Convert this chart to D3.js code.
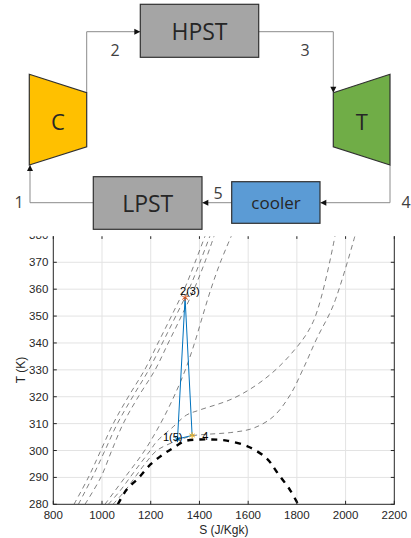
<!DOCTYPE html>
<html><head><meta charset="utf-8">
<script src="https://cdn.jsdelivr.net/npm/d3@7"></script>
<style>body{margin:0;background:#fff}svg{display:block}</style>
</head><body>
<svg id="c" width="411" height="538"></svg>
<script>
// ---------- data ----------
const xTicks = [800, 1000, 1200, 1400, 1600, 1800, 2000, 2200];
const yTicks = [280, 290, 300, 310, 320, 330, 340, 350, 360, 370, 380];

// saturation dome
const domeS = [1065, 1100, 1149, 1200, 1250, 1293, 1341, 1400, 1450, 1512, 1601, 1676, 1717, 1772, 1805];
const domeT = [280, 285.3, 289.7, 294.9, 298.5, 301, 303.5, 304.1, 304.1, 303.7, 301.4, 297.1, 292.1, 285.3, 280];

// isobars (steep, liquid-like)
const steepT = [280, 290, 300, 310, 320, 330, 340, 350, 360, 370, 380];
const isoA_S = [885, 944, 995, 1046, 1108, 1175, 1230, 1285, 1338, 1382, 1424];
const isoB_S = [903, 960, 1012, 1063, 1126, 1192, 1248, 1303, 1357, 1402, 1444];
const isoC_S = [930, 995, 1040, 1087, 1149, 1218, 1272, 1326, 1378, 1422, 1461];
const isoD_S = [1012, 1094, 1175, 1240, 1295, 1342, 1380, 1413, 1447, 1486, 1532];

// isobar with pseudo-critical bend
const isoE_S = [1026, 1074, 1115, 1156, 1198, 1224, 1293, 1347, 1402, 1539, 1662, 1772, 1867, 1957];
const isoE_T = [280, 285, 290, 295, 300, 303.3, 308.9, 313.2, 315.1, 319.4, 326.2, 335.5, 347.9, 380];

// near-critical isobar (through point 4)
const isoF_S = [1045, 1094, 1135, 1176, 1225, 1290, 1335, 1371, 1539, 1621, 1703, 1772, 1827, 1882, 1950, 2039];
const isoF_T = [280, 285, 290, 295, 300, 303, 304.5, 305.5, 306.8, 308.3, 312.6, 320.6, 330.6, 341.7, 354.1, 380];

// cycle states 1 -> 2 -> 4 -> 1
const cycleLabels = ["1(5)", "2(3)", "4"];
const cycleS = [1310, 1341, 1370];
const cycleT = [304.3, 356.8, 305.6];

// ---------- schematic ----------
const svg = d3.select('#c');
const font = "'Open Sans', 'Noto Sans', sans-serif";
const conn = '#8c8c8c', edge = '#303030', txt = '#262626';
const dg = svg.append('g');

const lineGen = d3.line();
function arrowHead(px, py, dir) {
  const L = 6, W = 3;
  let pts;
  if (dir === 'right') pts = [[px, py], [px - L, py - W], [px - L, py + W]];
  if (dir === 'left') pts = [[px, py], [px + L, py - W], [px + L, py + W]];
  if (dir === 'down') pts = [[px, py], [px - W, py - L], [px + W, py - L]];
  if (dir === 'up') pts = [[px, py], [px - W, py + L], [px + W, py + L]];
  dg.append('path').attr('d', lineGen(pts) + 'Z').attr('fill', '#111');
}
function connector(pts, dir) {
  dg.append('path').attr('d', lineGen(pts)).attr('fill', 'none').attr('stroke', conn).attr('stroke-width', 1);
  const e = pts[pts.length - 1];
  arrowHead(e[0], e[1], dir);
}
connector([[86.7, 92.7], [86.7, 31.7], [140.3, 31.7]], 'right');
connector([[258.7, 31.7], [333.3, 31.7], [333.3, 92.7]], 'down');
connector([[390, 165], [390, 202.7], [320.3, 202.7]], 'left');
connector([[231.7, 202.7], [202.3, 202.7]], 'left');
connector([[93.3, 202.7], [30, 202.7], [30, 165]], 'up');

function poly(pts, fill) {
  dg.append('path').attr('d', lineGen(pts) + 'Z').attr('fill', fill).attr('stroke', edge).attr('stroke-width', 1.2);
}
poly([[29.3, 74.3], [86.7, 92.7], [86.7, 146.7], [29.3, 165]], '#FFC000');
poly([[333.3, 92.7], [390, 74.3], [390, 165], [333.3, 146.7]], '#70AD47');
function box(x0, y0, x1, y1, fill) {
  dg.append('rect').attr('x', x0).attr('y', y0).attr('width', x1 - x0).attr('height', y1 - y0)
    .attr('fill', fill).attr('stroke', edge).attr('stroke-width', 1.2);
}
box(140.3, 4.3, 258.7, 57.3, '#A5A5A5');
box(93.3, 176.7, 202, 229.3, '#A5A5A5');
box(231.7, 181.7, 320, 223.3, '#5B9BD5');

function label(px, py, t, size, color) {
  dg.append('text').attr('x', px).attr('y', py).attr('text-anchor', 'middle').attr('dominant-baseline', 'central')
    .attr('font-family', font).attr('font-size', size).attr('fill', color || txt).text(t);
}
label(199.5, 31, 'HPST', 23);
label(147.7, 203, 'LPST', 23);
label(58, 121, 'C', 22);
label(361.7, 121, 'T', 22);
label(276, 202.5, 'cooler', 17);
label(115, 50, '2', 16, '#404040');
label(305, 50, '3', 16, '#404040');
label(406, 202, '4', 16, '#404040');
label(218, 193, '5', 16, '#404040');
label(19, 202, '1', 16, '#404040');

// ---------- T-s chart ----------
const pL = 53.3, pR = 394.3, pT = 235.4, pB = 504.3;
const x = d3.scaleLinear().domain([800, 2200]).range([pL, pR]);
const y = d3.scaleLinear().domain([280, 380]).range([pB, pT]);

const defs = svg.append('defs');
defs.append('clipPath').attr('id', 'figclip')
  .append('rect').attr('x', 0).attr('y', 236.3).attr('width', 411).attr('height', 302);
defs.append('clipPath').attr('id', 'plotclip')
  .append('rect').attr('x', pL).attr('y', pT).attr('width', pR - pL).attr('height', pB - pT);

const cg = svg.append('g').attr('clip-path', 'url(#figclip)');
const tickFont = "'Liberation Sans', Arial, sans-serif";

// grid
cg.append('g').selectAll('line').data(xTicks.slice(1, -1)).join('line')
  .attr('x1', d => x(d)).attr('x2', d => x(d)).attr('y1', pT).attr('y2', pB)
  .attr('stroke', '#e3e3e3').attr('stroke-width', 1);
cg.append('g').selectAll('line').data(yTicks.slice(1, -1)).join('line')
  .attr('y1', d => y(d)).attr('y2', d => y(d)).attr('x1', pL).attr('x2', pR)
  .attr('stroke', '#e3e3e3').attr('stroke-width', 1);

const pg = cg.append('g').attr('clip-path', 'url(#plotclip)');
const curve = d3.line().x(d => x(d[0])).y(d => y(d[1])).curve(d3.curveCatmullRom.alpha(0.5));
const zip = (a, b) => a.map((v, i) => [v, b[i]]);
const isobars = [
  zip(isoA_S, steepT), zip(isoB_S, steepT), zip(isoC_S, steepT), zip(isoD_S, steepT),
  zip(isoE_S, isoE_T), zip(isoF_S, isoF_T)
];
pg.selectAll('path.iso').data(isobars).join('path').attr('class', 'iso')
  .attr('d', curve).attr('fill', 'none').attr('stroke', '#4a4a4a').attr('stroke-width', 0.7)
  .attr('stroke-dasharray', '5,4');

pg.append('path').datum(zip(domeS, domeT)).attr('d', curve).attr('fill', 'none')
  .attr('stroke', '#000').attr('stroke-width', 2.4).attr('stroke-dasharray', '6,6');

const cyc = zip(cycleS, cycleT);
pg.append('path').datum(cyc.concat([cyc[0]])).attr('d', d3.line().x(d => x(d[0])).y(d => y(d[1])))
  .attr('fill', 'none').attr('stroke', '#0072BD').attr('stroke-width', 1);

const markerColors = ['#0072BD', '#D95319', '#EDB120'];
const sym = d3.symbol().type(d3.symbolAsterisk).size(28);
pg.selectAll('path.mk').data(cyc).join('path').attr('class', 'mk')
  .attr('transform', d => `translate(${x(d[0])},${y(d[1])})`).attr('d', sym)
  .attr('fill', 'none').attr('stroke', (d, i) => markerColors[i]).attr('stroke-width', 1);

// point labels
cg.append('text').attr('x', x(cycleS[0]) + 5).attr('y', y(cycleT[0]) + 2).attr('text-anchor', 'end')
  .attr('font-family', tickFont).attr('font-size', 11).attr('fill', '#000').text(cycleLabels[0]);
cg.append('text').attr('x', x(cycleS[1]) - 5).attr('y', y(cycleT[1]) - 2.5).attr('text-anchor', 'start')
  .attr('font-family', tickFont).attr('font-size', 11).attr('fill', '#000').text(cycleLabels[1]);
cg.append('text').attr('x', x(cycleS[2]) + 10).attr('y', y(cycleT[2]) + 4.5).attr('text-anchor', 'start')
  .attr('font-family', tickFont).attr('font-size', 11).attr('fill', '#000').text(cycleLabels[2]);

// axes box
const axc = '#262626';
cg.append('rect').attr('x', pL).attr('y', pT).attr('width', pR - pL).attr('height', pB - pT)
  .attr('fill', 'none').attr('stroke', axc).attr('stroke-width', 1);
const tl = 3.5;
cg.append('g').selectAll('line').data(xTicks).join('line')
  .attr('x1', d => x(d)).attr('x2', d => x(d)).attr('y1', pB).attr('y2', pB - tl).attr('stroke', axc);
cg.append('g').selectAll('line').data(xTicks).join('line')
  .attr('x1', d => x(d)).attr('x2', d => x(d)).attr('y1', pT).attr('y2', pT + tl).attr('stroke', axc);
cg.append('g').selectAll('line').data(yTicks).join('line')
  .attr('y1', d => y(d)).attr('y2', d => y(d)).attr('x1', pL).attr('x2', pL + tl).attr('stroke', axc);
cg.append('g').selectAll('line').data(yTicks).join('line')
  .attr('y1', d => y(d)).attr('y2', d => y(d)).attr('x1', pR).attr('x2', pR - tl).attr('stroke', axc);

cg.append('g').selectAll('text').data(xTicks).join('text')
  .attr('x', d => x(d)).attr('y', pB + 15).attr('text-anchor', 'middle')
  .attr('font-family', tickFont).attr('font-size', 11.5).attr('fill', axc).text(d => d);
cg.append('g').selectAll('text').data(yTicks).join('text')
  .attr('x', pL - 5).attr('y', d => y(d) + 4).attr('text-anchor', 'end')
  .attr('font-family', tickFont).attr('font-size', 11.5).attr('fill', axc).text(d => d);

cg.append('text').attr('x', (pL + pR) / 2).attr('y', 534).attr('text-anchor', 'middle')
  .attr('font-family', tickFont).attr('font-size', 12).attr('fill', axc).text('S (J/Kgk)');
cg.append('text').attr('transform', 'translate(25,370) rotate(-90)').attr('text-anchor', 'middle')
  .attr('font-family', tickFont).attr('font-size', 12).attr('fill', axc).text('T (K)');
</script>
</body></html>
